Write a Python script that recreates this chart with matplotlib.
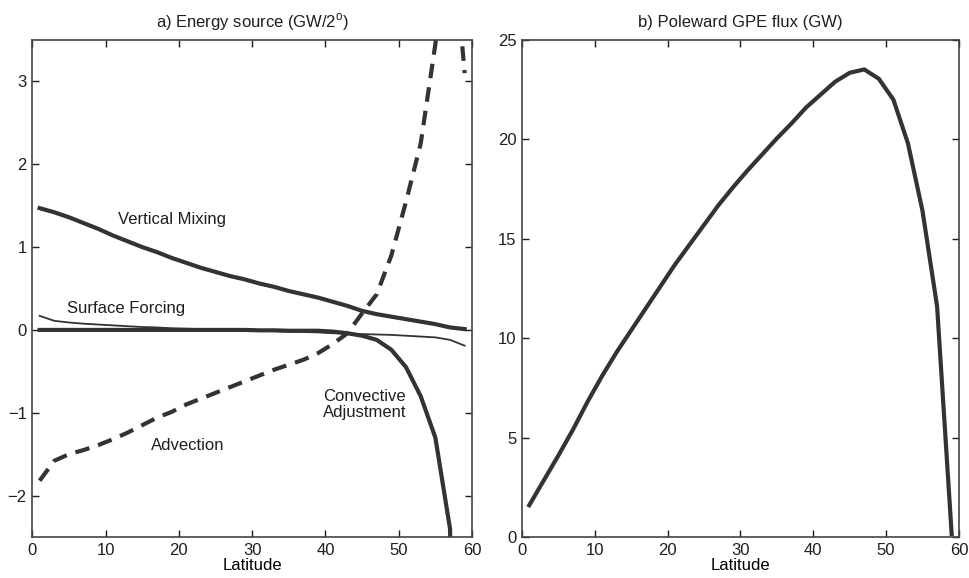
import matplotlib
matplotlib.use('Agg')
import matplotlib.pyplot as plt
import numpy as np

# latitude bins (2 degree)
lat = np.arange(1, 60, 2)

# a) energy source terms (GW/2deg)
vertical_mixing = [1.47, 1.42, 1.36, 1.29, 1.22, 1.14, 1.07, 1.00, 0.94, 0.87,
                   0.81, 0.75, 0.70, 0.65, 0.61, 0.56, 0.52, 0.47, 0.43, 0.39,
                   0.34, 0.29, 0.23, 0.19, 0.16, 0.13, 0.10, 0.07, 0.03, 0.01]
surface_forcing = [0.17, 0.11, 0.09, 0.075, 0.065, 0.055, 0.045, 0.035, 0.03, 0.02,
                   0.015, 0.01, 0.005, 0.0, -0.005, -0.01, -0.015, -0.02, -0.025, -0.03,
                   -0.04, -0.045, -0.05, -0.055, -0.06, -0.07, -0.08, -0.09, -0.12, -0.19]
convective_adj = [0.0, 0.0, 0.0, 0.0, 0.0, 0.0, 0.0, 0.0, 0.0, 0.0,
                  0.0, 0.0, 0.0, 0.0, 0.0, -0.005, -0.005, -0.01, -0.01, -0.01,
                  -0.02, -0.04, -0.07, -0.12, -0.24, -0.45, -0.80, -1.30, -2.40, -10.0]
advection = [-1.82, -1.58, -1.50, -1.45, -1.39, -1.32, -1.24, -1.15, -1.06, -0.99,
             -0.90, -0.83, -0.76, -0.69, -0.62, -0.55, -0.48, -0.42, -0.36, -0.28,
             -0.17, -0.04, 0.20, 0.43, 0.90, 1.55, 2.25, 3.45, 5.10, 3.10]

# b) poleward GPE flux (GW)
gpe_flux = [1.6, 2.85, 4.1, 5.4, 6.8, 8.1, 9.3, 10.4, 11.5, 12.6,
            13.7, 14.7, 15.7, 16.7, 17.6, 18.45, 19.25, 20.05, 20.8, 21.6,
            22.25, 22.9, 23.35, 23.52, 23.05, 22.0, 19.8, 16.4, 11.6, 0.15]

plt.rcParams['font.family'] = ['Liberation Sans', 'DejaVu Sans']
plt.rcParams['font.size'] = 12
plt.rcParams['mathtext.fontset'] = 'custom'
plt.rcParams['mathtext.rm'] = 'Liberation Sans'
plt.rcParams['text.color'] = '#1e1e1e'

line_col = '#333333'

fig = plt.figure(figsize=(9.7, 5.78), dpi=100)
ax1 = fig.add_axes([0.0333, 0.0709, 0.4533, 0.8599])
ax2 = fig.add_axes([0.5381, 0.0709, 0.4505, 0.8599])

for ax in (ax1, ax2):
    ax.tick_params(direction='in', top=True, right=True, length=5, width=1,
                   colors='#1e1e1e', labelsize=12, pad=4)
    for s in ax.spines.values():
        s.set_color('#444444')
        s.set_linewidth(1.2)
    ax.set_xlim(0, 60)
    ax.set_xticks([0, 10, 20, 30, 40, 50, 60])
    ax.set_xlabel('Latitude', labelpad=0)

# panel a
ax1.plot(lat, vertical_mixing, color=line_col, lw=3)
ax1.plot(lat, surface_forcing, color=line_col, lw=1.3)
ax1.plot(lat, convective_adj, color=line_col, lw=3)
ax1.plot(lat, advection, color=line_col, lw=3, linestyle=(0, (3.5, 2.2)))
ax1.set_ylim(-2.5, 3.5)
ax1.set_yticks([-2, -1, 0, 1, 2, 3])
ax1.set_title(r'a) Energy source (GW/2$^{\mathrm{o}}$)', fontsize=12, pad=9)

ax1.text(19.0, 1.33, 'Vertical Mixing', ha='center', va='center')
ax1.text(12.8, 0.26, 'Surface Forcing', ha='center', va='center')
ax1.text(39.7, -0.9, 'Convective\nAdjustment', ha='left', va='center', linespacing=1.15)
ax1.text(21.2, -1.39, 'Advection', ha='center', va='center')

# panel b
ax2.plot(lat, gpe_flux, color=line_col, lw=3)
ax2.set_ylim(0, 25)
ax2.set_yticks([0, 5, 10, 15, 20, 25])
ax2.set_title('b) Poleward GPE flux (GW)', fontsize=12, pad=9)

fig.savefig('out.png', dpi=100)
